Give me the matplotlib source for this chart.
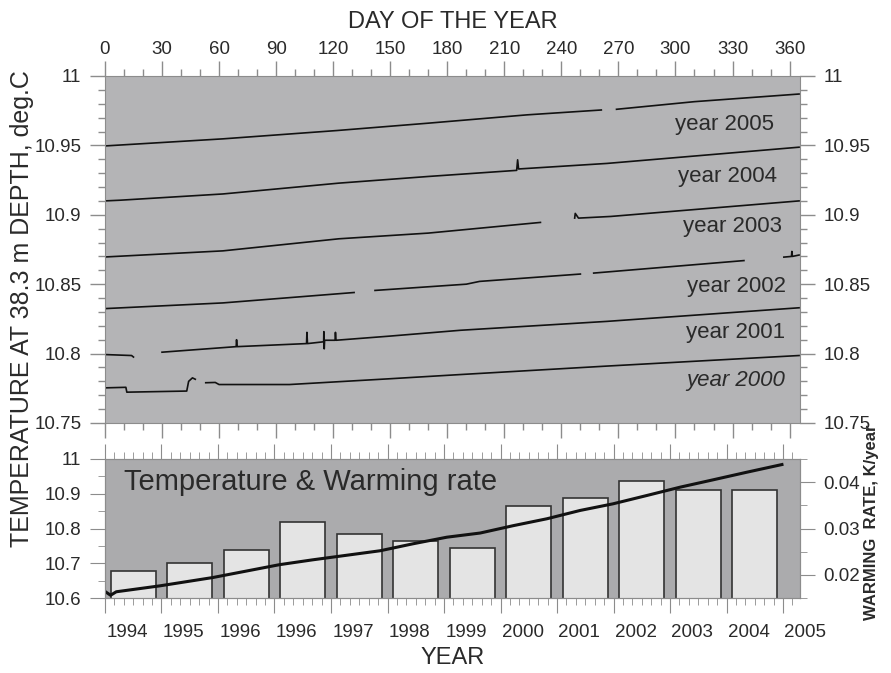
import matplotlib.pyplot as plt
import numpy as np
from matplotlib.ticker import MultipleLocator, FormatStrFormatter
from matplotlib.transforms import ScaledTranslation

plt.rcParams['font.family'] = ['Liberation Sans', 'DejaVu Sans']

nan = np.nan

# top panel: day of year vs temperature at 38.3 m, one trace per year (nan = gap)
days_2005 = [0, 62, 122, 170, 222, 261, nan, 269, 310, 365]
temp_2005 = [10.9496, 10.9547, 10.9607, 10.966, 10.972, 10.9755, nan, 10.976, 10.9815, 10.987]

days_2004 = [0, 8, 62, 123, 170, 216.5, 217, 217.5, 264, 365]
temp_2004 = [10.910, 10.9105, 10.915, 10.9228, 10.9276, 10.932, 10.9396, 10.933, 10.937, 10.9487]

days_2003 = [0, 62, 123, 170, 229, nan, 247, 247.3, 249, 266, 365]
temp_2003 = [10.8696, 10.874, 10.8827, 10.8868, 10.8945, nan, 10.8976, 10.901, 10.8976, 10.8988, 10.910]

days_2002 = [0, 62, 131, nan, 142, 190, 197, 250, nan, 257, 336, nan, 357, 361, 361.2, 361.5, 365]
temp_2002 = [10.8324, 10.8365, 10.844, nan, 10.8455, 10.850, 10.852, 10.8573, nan, 10.858, 10.867, nan,
             10.8695, 10.870, 10.8736, 10.870, 10.871]

days_2001 = [0, 14, 15, nan, 30, 69, 69.2, 69.5, 106, 106.2, 106.5, 115, 115.1, 115.3, 115.5,
             121, 121.2, 121.5, 149, 187, 264, 365]
temp_2001 = [10.7993, 10.7986, 10.7975, nan, 10.801, 10.805, 10.810, 10.805, 10.8072, 10.8153, 10.8072,
             10.8085, 10.8158, 10.8034, 10.8096, 10.8096, 10.8153, 10.8096, 10.8125, 10.8168, 10.8232, 10.833]

days_2000 = [0, 11, 11.5, 43, 44, 46, 47.5, nan, 53, 58, 60, 97, 149, 187, 264, 365]
temp_2000 = [10.7753, 10.7757, 10.7722, 10.773, 10.780, 10.7825, 10.7815, nan, 10.779, 10.7792,
             10.7777, 10.7777, 10.7818, 10.7849, 10.791, 10.7986]

year_names = ['year 2005', 'year 2004', 'year 2003', 'year 2002', 'year 2001', 'year 2000']

# bottom panel: long-term temperature and yearly warming rate
t_years = [0, 0.1, 0.2, 0.97, 1.91, 3.09, 3.68, 4.87, 5.45, 6.05, 6.64, 7.22, 7.82, 8.41,
           8.99, 9.59, 10.18, 10.76, 11.36, 11.98]
t_temp = [10.619, 10.608, 10.618, 10.635, 10.659, 10.696, 10.71, 10.736, 10.756, 10.775, 10.787,
          10.808, 10.828, 10.852, 10.871, 10.895, 10.919, 10.94, 10.962, 10.984]
rate = [0.0209, 0.0225, 0.0254, 0.0313, 0.0289, 0.0273, 0.0257, 0.0349, 0.0365, 0.0403, 0.0384, 0.0384]
year_labels = ['1994', '1995', '1996', '1996', '1997', '1998', '1999', '2000', '2001',
               '2002', '2003', '2004', '2005']

gc = '#8c8c8c'
tc = '#2a2a2a'

fig = plt.figure(figsize=(8.91, 6.73), dpi=100)
ax1 = fig.add_axes([0.1178, 0.3715, 0.7801, 0.5156])
ax2 = fig.add_axes([0.1178, 0.1114, 0.7801, 0.2066])
ax2r = ax2.twinx()

# ---- top panel
ax1.set_facecolor('#b4b4b6')
traces = [(days_2005, temp_2005), (days_2004, temp_2004), (days_2003, temp_2003),
          (days_2002, temp_2002), (days_2001, temp_2001), (days_2000, temp_2000)]
for d, t in traces:
    ax1.plot(d, t, color='#111111', lw=1.2)

lab_x = [351.6, 353.2, 355.8, 357.9, 357.9, 357.9]
lab_y = [10.9647, 10.9276, 10.8916, 10.8484, 10.8153, 10.7808]
for i, name in enumerate(year_names):
    ax1.text(lab_x[i], lab_y[i], name, ha='right', va='center', fontsize=16, color=tc,
             style='italic' if name.endswith('2000') else 'normal')

ax1.set_xlim(0, 365.5)
ax1.set_ylim(10.75, 11)
ax1.xaxis.set_major_locator(MultipleLocator(30))
ax1.xaxis.set_minor_locator(MultipleLocator(10))
ax1.yaxis.set_major_locator(MultipleLocator(0.05))
ax1.yaxis.set_minor_locator(MultipleLocator(0.01))
ax1.yaxis.set_major_formatter(FormatStrFormatter('%g'))
ax1.tick_params(which='both', direction='out', color=gc, labelcolor=tc, labelsize=13.5,
                top=True, bottom=True, left=True, right=True,
                labeltop=True, labelbottom=False, labelleft=True, labelright=True)
ax1.tick_params(which='major', length=11, width=1, pad=2)
ax1.tick_params(which='minor', length=5, width=1)
ax1.tick_params(axis='y', which='major', pad=6)
ax1.xaxis.set_label_position('top')
ax1.set_xlabel('DAY OF THE YEAR', fontsize=17, color=tc, labelpad=9)

# ---- bottom panel
ax2r.set_zorder(1)
ax2.set_zorder(2)
ax2.patch.set_visible(False)
ax2r.patch.set_visible(True)
ax2r.set_facecolor('#ababad')

ax2r.bar(np.arange(len(rate)) + 0.5, rate, width=0.8, bottom=0,
         color='#e4e4e4', edgecolor='#333333', lw=1.2)
ax2r.set_ylim(0.015, 0.045)
ax2r.yaxis.set_major_locator(MultipleLocator(0.01))
ax2r.yaxis.set_minor_locator(MultipleLocator(0.005))
ax2r.tick_params(which='both', direction='out', color=gc, labelcolor=tc, labelsize=13.5)
ax2r.tick_params(which='major', length=11, pad=6)
ax2r.tick_params(which='minor', length=5)

ax2.plot(t_years, t_temp, color='#111111', lw=2.2)
ax2.text(0.33, 10.935, 'Temperature & Warming rate', fontsize=21, color=tc, va='center')
ax2.set_xlim(0, 12.3)
ax2.set_ylim(10.6, 11)
ax2.set_xticks(range(len(year_labels)), year_labels)
ax2.xaxis.set_minor_locator(MultipleLocator(1 / 6))
ax2.yaxis.set_major_locator(MultipleLocator(0.1))
ax2.yaxis.set_minor_locator(MultipleLocator(0.05))
ax2.yaxis.set_major_formatter(FormatStrFormatter('%g'))
ax2.tick_params(which='both', direction='out', color=gc, labelcolor=tc, labelsize=13.5,
                top=True, bottom=True)
ax2.tick_params(which='major', length=11, pad=6)
ax2.tick_params(which='minor', length=5)
ax2.tick_params(axis='x', which='major', pad=8)
shift = ScaledTranslation(0.22, 0, fig.dpi_scale_trans)
for lab in ax2.get_xticklabels():
    lab.set_transform(lab.get_transform() + shift)
ax2.set_xlabel('YEAR', fontsize=17, color=tc, labelpad=4)

for ax in (ax1, ax2, ax2r):
    for s in ax.spines.values():
        s.set_color(gc)

fig.text(0.025, 0.542, 'TEMPERATURE AT 38.3 m DEPTH, deg.C', rotation=90, fontsize=18,
         color=tc, ha='center', va='center')
fig.text(0.978, 0.224, 'WARMING  RATE, K/year', rotation=90, fontsize=12, fontweight='bold',
         color=tc, ha='center', va='center')

fig.savefig('out.png', dpi=100)
